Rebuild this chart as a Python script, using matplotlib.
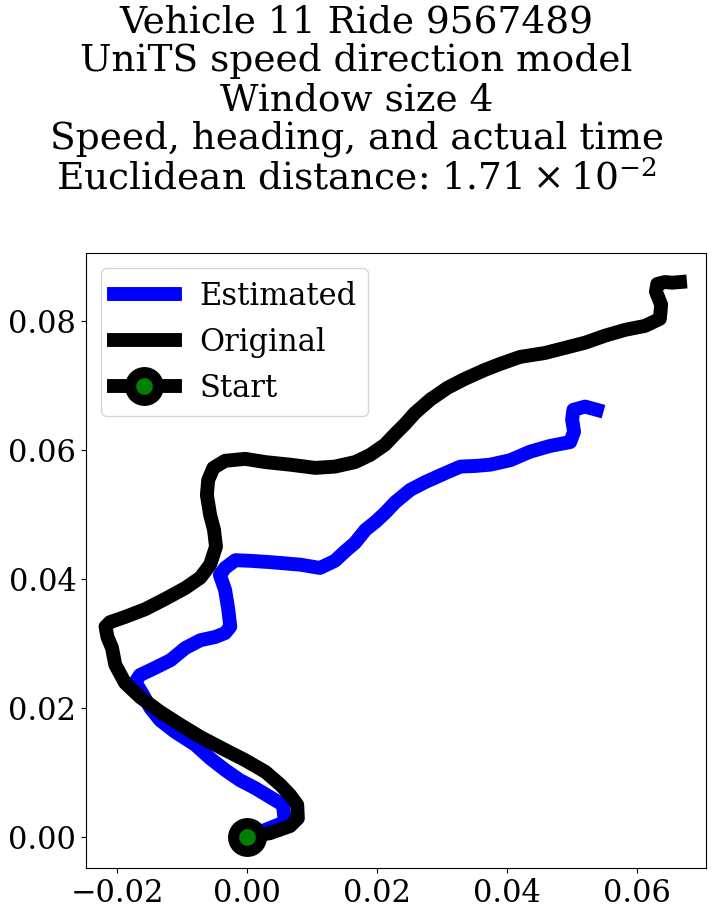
import matplotlib
matplotlib.use('Agg')
import matplotlib.pyplot as plt

plt.rcParams['font.family'] = 'DejaVu Serif'
plt.rcParams['mathtext.fontset'] = 'dejavuserif'

# original trajectory
orig_x = [0, .0035, .0066, .0078, .0077, .0066, .0051, .0028, -.0003, -.0034, -.0072, -.0103,
          -.0134, -.0165, -.0188, -.0203, -.0208, -.0215, -.0218, -.0211, -.0188, -.0157, -.0126,
          -.0095, -.0072, -.0057, -.0048, -.0051, -.0057, -.0062, -.0060, -.0052, -.0034, -.0003,
          .0028, .0066, .0105, .0135, .0166, .0189, .0212, .0228, .0243, .0258, .0282, .0308,
          .0335, .0366, .0389, .0420, .0458, .0489, .0520, .0551, .0582, .0612, .0635, .0637,
          .0629, .0631, .0643, .0654, .0666]
orig_y = [0, .0006, .0017, .0029, .0050, .0065, .0081, .0101, .0119, .0135, .0155, .0174,
          .0194, .0217, .0239, .0267, .0293, .0310, .0326, .0333, .0341, .0353, .0369,
          .0386, .0402, .0422, .0450, .0476, .0499, .0530, .0553, .0572, .0583, .0586,
          .0581, .0577, .0572, .0574, .0581, .0592, .0608, .0625, .0640, .0657, .0678, .0696,
          .0710, .0724, .0733, .0744, .0750, .0758, .0766, .0777, .0786, .0792, .0803, .0825,
          .0845, .0857, .0860, .0859, .0860]

# estimated trajectory
est_x = [0, .0058, .0055, .0035, .0012, -.0011, -.0034, -.0057, -.0080, -.0111, -.0134, -.0149,
         -.0160, -.0172, -.0165, -.0142, -.0118, -.0095, -.0072, -.0049, -.0034, -.0026, -.0029,
         -.0034, -.0042, -.0034, -.0018, .0005, .0035, .0082, .0112, .0135, .0151, .0166, .0182,
         .0197, .0212, .0228, .0251, .0274, .0305, .0328, .0351, .0374, .0405, .0435, .0466,
         .0497, .0503, .0500, .0502, .0520, .0538]
est_y = [0, .0023, .0050, .0062, .0076, .0088, .0104, .0122, .0143, .0163, .0181, .0200,
         .0220, .0240, .0251, .0262, .0274, .0293, .0305, .0310, .0316, .0326, .0352,
         .0383, .0406, .0417, .0429, .0428, .0426, .0422, .0417, .0428, .0443, .0456, .0476,
         .0488, .0502, .0519, .0538, .0550, .0564, .0574, .0575, .0577, .0584, .0597, .0606,
         .0612, .0628, .0647, .0662, .0667, .0662]

fig = plt.figure(figsize=(7.13, 9.16), dpi=100)
ax = fig.add_axes([86/713, 48/916, 620/713, 615/916])

ax.plot(est_x, est_y, color='blue', linewidth=10, label='Estimated')
ax.plot(orig_x, orig_y, color='black', linewidth=10, label='Original')
ax.plot([orig_x[0]], [orig_y[0]], '-o', color='black', linewidth=10, markersize=20,
        markerfacecolor='green', markeredgecolor='black', markeredgewidth=8, label='Start')

ax.set_xlim(-0.0248, 0.0706)
ax.set_ylim(-0.0048, 0.0905)
ax.set_xticks([-0.02, 0.00, 0.02, 0.04, 0.06])
ax.set_yticks([0.00, 0.02, 0.04, 0.06, 0.08])
ax.tick_params(labelsize=22)
ax.legend(loc='upper left', fontsize=22)

fig.suptitle('Vehicle 11 Ride 9567489\nUniTS speed direction model\nWindow size 4\n'
             'Speed, heading, and actual time\n'
             r'Euclidean distance: $1.71 \times 10^{-2}$',
             fontsize=27, y=0.995, va='top', linespacing=1.1)

fig.savefig('out.png')
